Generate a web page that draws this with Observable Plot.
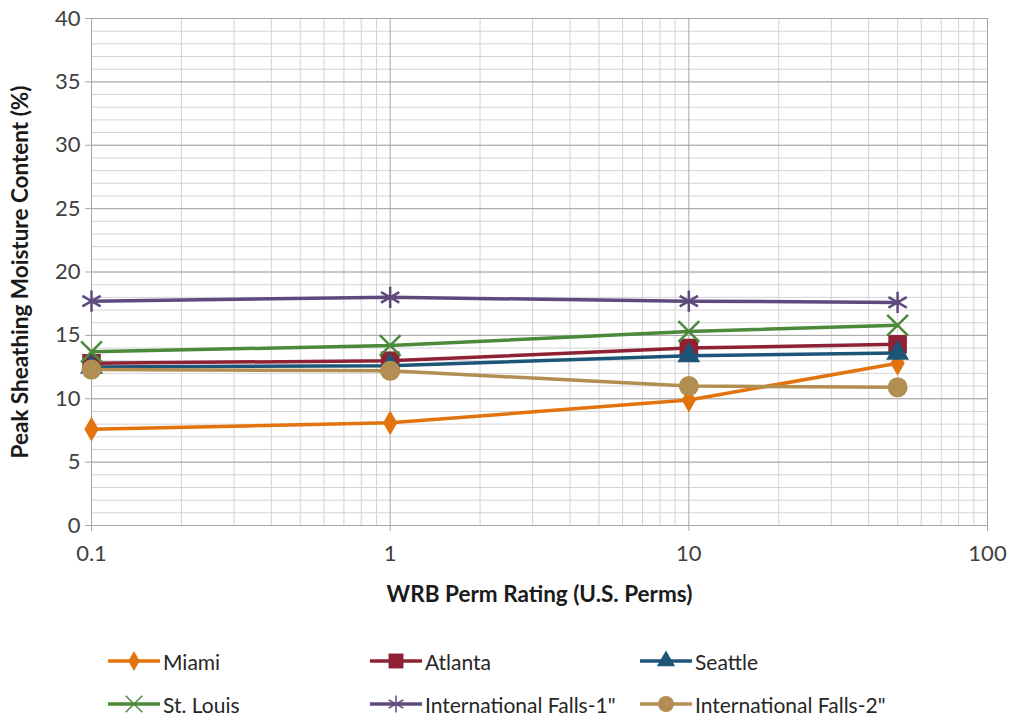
<!DOCTYPE html>
<html>
<head>
<meta charset="utf-8">
<script src="https://cdn.jsdelivr.net/npm/d3@7"></script>
<script src="https://cdn.jsdelivr.net/npm/@observablehq/plot@0.6"></script>
<style>
  body { margin: 0; background: #fff; }
  #wrap { position: relative; width: 1012px; height: 720px; font-family: Lato, "Open Sans", sans-serif; }
  #chart { position: absolute; left: 0; top: 0; }
  .leg { position: absolute; display: flex; align-items: center; font-size: 21px; color: #262626; white-space: nowrap; }
  .leg svg { margin-right: 3px; }
</style>
</head>
<body>
<div id="wrap"><div id="chart"></div></div>
<script>
const perms = [0.1, 1, 10, 50];
const miami = [7.6, 8.1, 9.9, 12.8];
const atlanta = [12.8, 13.0, 14.0, 14.3];
const seattle = [12.5, 12.6, 13.4, 13.6];
const stLouis = [13.7, 14.2, 15.3, 15.8];
const intlFalls1 = [17.7, 18.0, 17.7, 17.6];
const intlFalls2 = [12.3, 12.2, 11.0, 10.9];

const seriesNames = ["Miami", "Atlanta", "Seattle", "St. Louis", "International Falls-1\"", "International Falls-2\""];
const seriesValues = [miami, atlanta, seattle, stLouis, intlFalls1, intlFalls2];
const seriesColors = ["#E2730E", "#8E2234", "#1D5578", "#4A8A3A", "#5E4A7D", "#B38E52"];
const seriesSymbols = ["diamond", "square", "triangle", "times", "asterisk", "circle"];
const seriesR = [7.5, 10.5, 8.5, 9.5, 10, 10];
const strokeSymbol = [false, false, false, true, true, false];

const yTicks = [0, 5, 10, 15, 20, 25, 30, 35, 40];
const xTicks = [0.1, 1, 10, 100];
const yMinor = d3.range(0, 41, 1);
const xMinor = [];
for (const dec of [0.1, 1, 10]) for (let k = 2; k <= 9; k++) xMinor.push(+(dec * k).toPrecision(3));

const marks = [
  Plot.ruleY(yMinor, {stroke: "#d4d4d4", strokeWidth: 1}),
  Plot.ruleX(xMinor, {stroke: "#d4d4d4", strokeWidth: 1}),
  Plot.ruleY(yTicks, {stroke: "#a6a6a6", strokeWidth: 1}),
  Plot.ruleX(xTicks, {stroke: "#a6a6a6", strokeWidth: 1}),
  Plot.axisY(yTicks, {tickSize: 6, tickPadding: 5, fontSize: 22, stroke: "#a6a6a6", color: "#404040", label: null}),
  Plot.axisX(xTicks, {tickSize: 6, tickPadding: 14, fontSize: 22, stroke: "#a6a6a6", color: "#404040", tickFormat: d => String(d), label: null}),
  Plot.text(["WRB Perm Rating (U.S. Perms)"], {frameAnchor: "bottom", dy: 76, fontSize: 22.5, fontWeight: "bold", fill: "#1a1a1a"}),
  Plot.text(["Peak Sheathing Moisture Content (%)"], {frameAnchor: "left", textAnchor: "middle", dx: -71, rotate: -90, fontSize: 22.5, fontWeight: "bold", fill: "#1a1a1a"})
];

seriesNames.forEach((name, i) => {
  const rows = perms.map((p, j) => ({perm: p, value: seriesValues[i][j]}));
  marks.push(Plot.line(rows, {x: "perm", y: "value", stroke: seriesColors[i], strokeWidth: 3.5}));
  if (strokeSymbol[i]) {
    marks.push(Plot.dot(rows, {x: "perm", y: "value", symbol: seriesSymbols[i], r: seriesR[i], stroke: seriesColors[i], strokeWidth: 2.5, fill: "none"}));
  } else {
    marks.push(Plot.dot(rows, {x: "perm", y: "value", symbol: seriesSymbols[i], r: seriesR[i], fill: seriesColors[i], stroke: "none"}));
  }
});

const chart = Plot.plot({
  width: 1012,
  height: 620,
  marginLeft: 91,
  marginRight: 25,
  marginTop: 18,
  marginBottom: 95,
  x: {type: "log", domain: [0.1, 100]},
  y: {domain: [0, 40]},
  style: {fontFamily: "Lato, 'Open Sans', sans-serif", background: "#fff"},
  marks
});
document.getElementById("chart").appendChild(chart);

// Legend
const legPos = [[108, 661], [370, 661], [640, 661], [108, 704], [370, 704], [640, 704]];
const wrap = document.getElementById("wrap");
seriesNames.forEach((name, i) => {
  const div = document.createElement("div");
  div.className = "leg";
  div.style.left = legPos[i][0] + "px";
  div.style.top = (legPos[i][1] - 12) + "px";
  div.style.height = "24px";
  const sym = d3.symbol(d3["symbol" + ({diamond: "Diamond", square: "Square", triangle: "Triangle", times: "Times", asterisk: "Asterisk", circle: "Circle"})[seriesSymbols[i]]], Math.PI * (seriesR[i] * 0.8) ** 2)();
  const c = seriesColors[i];
  const markerAttr = strokeSymbol[i] ? `fill="none" stroke="${c}" stroke-width="1.5"` : `fill="${c}"`;
  div.innerHTML = `<svg width="52" height="24"><line x1="0" x2="52" y1="12" y2="12" stroke="${c}" stroke-width="3.5"/><path transform="translate(26,12)" d="${sym}" ${markerAttr}/></svg><span>${name}</span>`;
  wrap.appendChild(div);
});
</script>
</body>
</html>
